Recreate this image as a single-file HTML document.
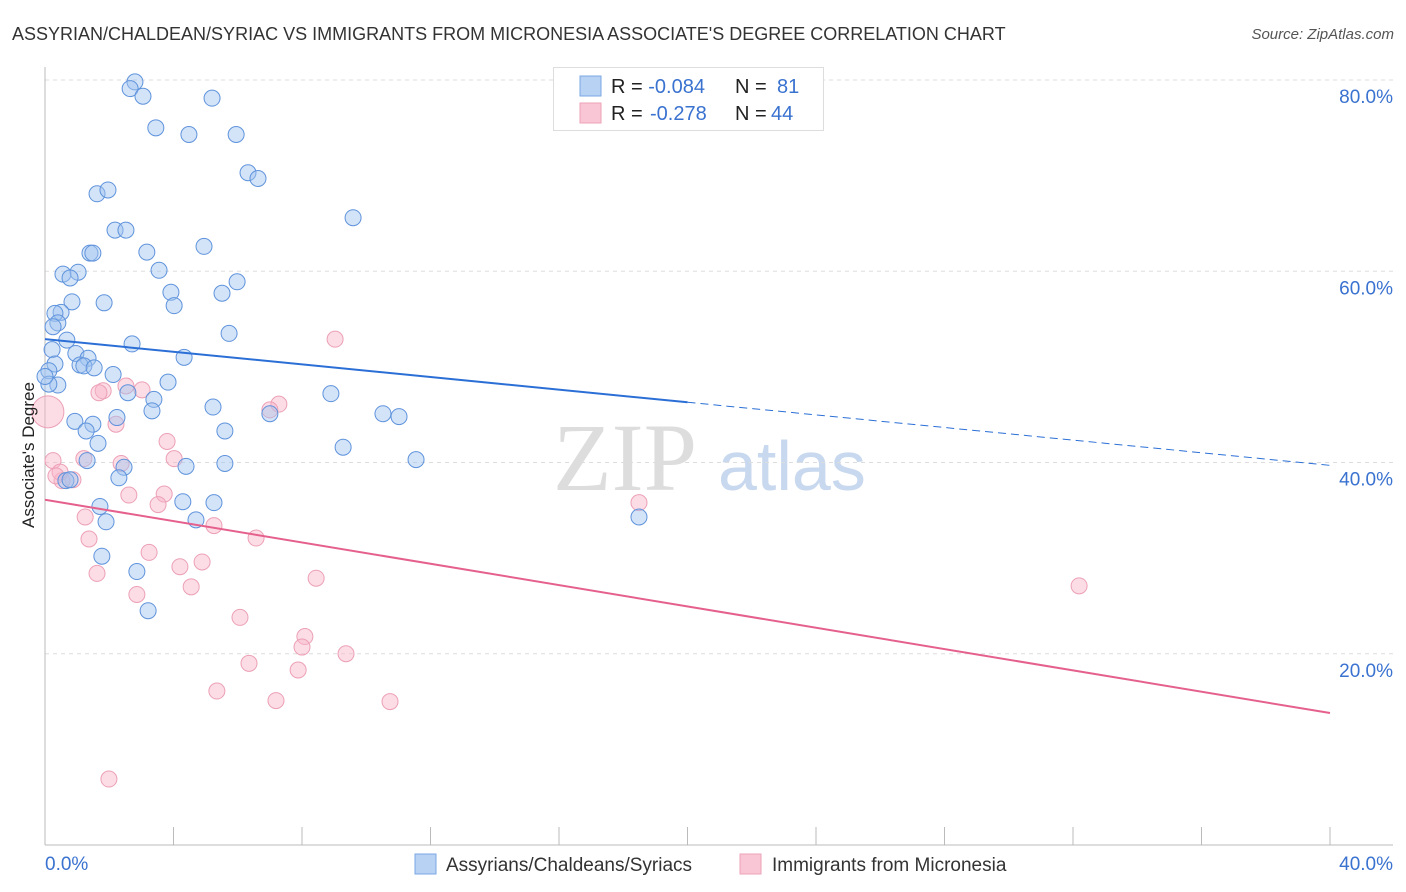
<!DOCTYPE html>
<html><head><meta charset="utf-8">
<style>
body{margin:0;background:#fff;font-family:"Liberation Sans",sans-serif;}
svg{display:block}
</style></head>
<body>
<svg id="chart" width="1406" height="892" xmlns="http://www.w3.org/2000/svg" font-family="Liberation Sans, sans-serif">
<text x="12" y="40" font-size="18" fill="#333">ASSYRIAN/CHALDEAN/SYRIAC VS IMMIGRANTS FROM MICRONESIA ASSOCIATE'S DEGREE CORRELATION CHART</text>
<text x="1394" y="39" font-size="15" fill="#555" text-anchor="end" font-style="italic">Source: ZipAtlas.com</text>
<text x="553" y="490" font-size="96" fill="#ddd" font-family="Liberation Serif, serif">ZIP</text>
<text x="718" y="490" font-size="70" fill="#c8d8ee">atlas</text>
<g id="grid"></g>
<g id="axes"></g>
<g id="pts"></g>
<g id="trends"></g>
<text transform="translate(34,455) rotate(-90)" font-size="17" fill="#222" text-anchor="middle">Associate's Degree</text>
<g>
<rect x="553.5" y="67.5" width="270" height="63" fill="#fff" stroke="#ddd"/>
<rect x="580" y="76" width="21" height="20" fill="#b8d2f4" stroke="#7aa7e6"/>
<text x="611" y="93" font-size="20" fill="#222">R = <tspan fill="#3a72d0">-0.084</tspan><tspan x="735">N = </tspan><tspan fill="#3a72d0" x="777">81</tspan></text>
<rect x="580" y="103" width="21" height="20" fill="#f8c6d4" stroke="#eea3b9"/>
<text x="611" y="120" font-size="20" fill="#222">R = <tspan fill="#3a72d0" x="650">-0.278</tspan><tspan x="735">N = </tspan><tspan fill="#3a72d0" x="771">44</tspan></text>
</g>
<g>
<rect x="415" y="854" width="21" height="20" fill="#b8d2f4" stroke="#7aa7e6"/>
<text x="446" y="871" font-size="19" fill="#333">Assyrians/Chaldeans/Syriacs</text>
<rect x="740" y="854" width="21" height="20" fill="#f8c6d4" stroke="#eea3b9"/>
<text x="772" y="871" font-size="19" fill="#333">Immigrants from Micronesia</text>
</g>
</svg>
<script>
const yTicks=[20,40,60,80];
const xTickLabels=["0.0%","40.0%"];
const blueX=[2.8,2.65,3.05,5.2,3.45,4.48,5.95,6.32,6.63,9.59,1.62,1.96,2.18,2.52,1.4,1.49,3.17,4.95,0.56,1.03,0.78,3.55,5.98,3.92,5.51,0.84,1.84,4.02,0.5,0.31,0.4,0.25,5.73,0.68,2.71,0.22,4.33,0.96,1.34,1.09,1.21,1.53,0.31,0.12,2.12,0.4,3.83,0.12,2.58,8.9,3.39,3.33,5.23,7.0,10.52,11.02,2.24,0.93,1.49,1.28,5.6,1.65,9.28,11.55,1.31,4.39,5.6,2.46,2.3,0.65,0.78,4.29,5.26,1.71,4.7,1.9,18.49,1.77,2.86,3.21,0.0];
const blueY=[79.8,79.1,78.3,78.1,75.0,74.3,74.3,70.3,69.7,65.6,68.1,68.5,64.3,64.3,61.9,61.9,62.0,62.6,59.7,59.9,59.3,60.1,58.9,57.8,57.7,56.8,56.7,56.4,55.7,55.6,54.6,54.2,53.5,52.8,52.4,51.8,51.0,51.4,50.9,50.2,50.1,49.9,50.3,49.6,49.2,48.1,48.4,48.2,47.3,47.2,46.6,45.4,45.8,45.1,45.1,44.8,44.7,44.3,44.0,43.3,43.3,42.0,41.6,40.3,40.2,39.6,39.9,39.5,38.4,38.1,38.2,35.9,35.8,35.4,34.0,33.8,34.3,30.2,28.6,24.5,49.0];
const pinkX=[9.03,7.28,7.0,2.52,3.02,1.81,1.68,2.21,0.09,3.8,4.02,0.25,2.37,0.87,0.53,2.61,3.71,3.52,5.26,6.57,1.25,1.37,3.24,1.62,4.2,4.89,8.44,2.86,4.55,6.07,8.09,8.0,9.37,6.35,7.88,5.35,7.19,10.74,1.99,18.49,32.19,0.47,0.34,1.21];
const pinkY=[52.9,46.1,45.5,48.0,47.6,47.5,47.3,44.0,45.3,42.2,40.4,40.2,39.9,38.2,38.1,36.6,36.7,35.6,33.4,32.1,34.3,32.0,30.6,28.4,29.1,29.6,27.9,26.2,27.0,23.8,21.8,20.7,20.0,19.0,18.3,16.1,15.1,15.0,6.9,35.8,27.1,39.0,38.6,40.4];
const pinkR=[8,8,8,8,8,8,8,8,16,8,8,8,8,8,8,8,8,8,8,8,8,8,8,8,8,8,8,8,8,8,8,8,8,8,8,8,8,8,8,8,8,8,8,8];
const blueTrend=[52.9,46.3,39.7];   // at x=0, 20, 40
const pinkTrend=[36.1,13.8];        // at x=0, 40
const NS="http://www.w3.org/2000/svg";
const X0=45,X1=1330,Y0=845,Y80=80;
const sx=v=>X0+(X1-X0)*v/40;
const sy=v=>Y0-(Y0-Y80)*v/80;
function mk(tag,attrs,parent){const e=document.createElementNS(NS,tag);for(const k in attrs)e.setAttribute(k,attrs[k]);parent.appendChild(e);return e;}
const grid=document.getElementById('grid'),axes=document.getElementById('axes'),pts=document.getElementById('pts'),tr=document.getElementById('trends');
yTicks.forEach(t=>{
  const l=mk('line',{x1:X0,x2:1393,y1:sy(t),y2:sy(t),stroke:'#ddd','stroke-dasharray':'4,4'},grid);
  
  
  const tx=mk('text',{x:1393,y:sy(t)+23,'font-size':19,fill:'#3a72d0','text-anchor':'end'},axes);
  tx.textContent=t.toFixed(1)+'%';
  
  
});
const ya=mk('line',{x1:X0,x2:X0,y1:67,y2:Y0,stroke:'#bbb'},axes);


const xa=mk('line',{x1:X0,x2:1393,y1:Y0,y2:Y0,stroke:'#bbb'},axes);


for(let i=0;i<=10;i++){
  const t=mk('line',{x1:sx(i*4),x2:sx(i*4),y1:Y0-18,y2:Y0,stroke:'#bbb'},axes);
  
  
}
const xl0=mk('text',{x:45,y:870,'font-size':19,fill:'#3a72d0'},axes);xl0.textContent=xTickLabels[0];


const xl1=mk('text',{x:1393,y:870,'font-size':19,fill:'#3a72d0','text-anchor':'end'},axes);xl1.textContent=xTickLabels[1];


pinkX.forEach((v,i)=>{
  const c=mk('circle',{cx:sx(v),cy:sy(pinkY[i]),r:pinkR[i],fill:'rgba(248,180,200,0.45)',stroke:'#eca0b6','stroke-width':1},pts);
  
  
});
blueX.forEach((v,i)=>{
  const c=mk('circle',{cx:sx(v),cy:sy(blueY[i]),r:8,fill:'rgba(160,195,240,0.45)',stroke:'#5f93dc','stroke-width':1},pts);
  
  
});
const b1=mk('line',{x1:sx(0),y1:sy(blueTrend[0]),x2:sx(20),y2:sy(blueTrend[1]),stroke:'#2b6fd6','stroke-width':2},tr);


const b2=mk('line',{x1:sx(20),y1:sy(blueTrend[1]),x2:sx(40),y2:sy(blueTrend[2]),stroke:'#2b6fd6','stroke-width':1,'stroke-dasharray':'8,5'},tr);


const p1=mk('line',{x1:sx(0),y1:sy(pinkTrend[0]),x2:sx(40),y2:sy(pinkTrend[1]),stroke:'#e5608c','stroke-width':2},tr);


</script>
</body></html>
